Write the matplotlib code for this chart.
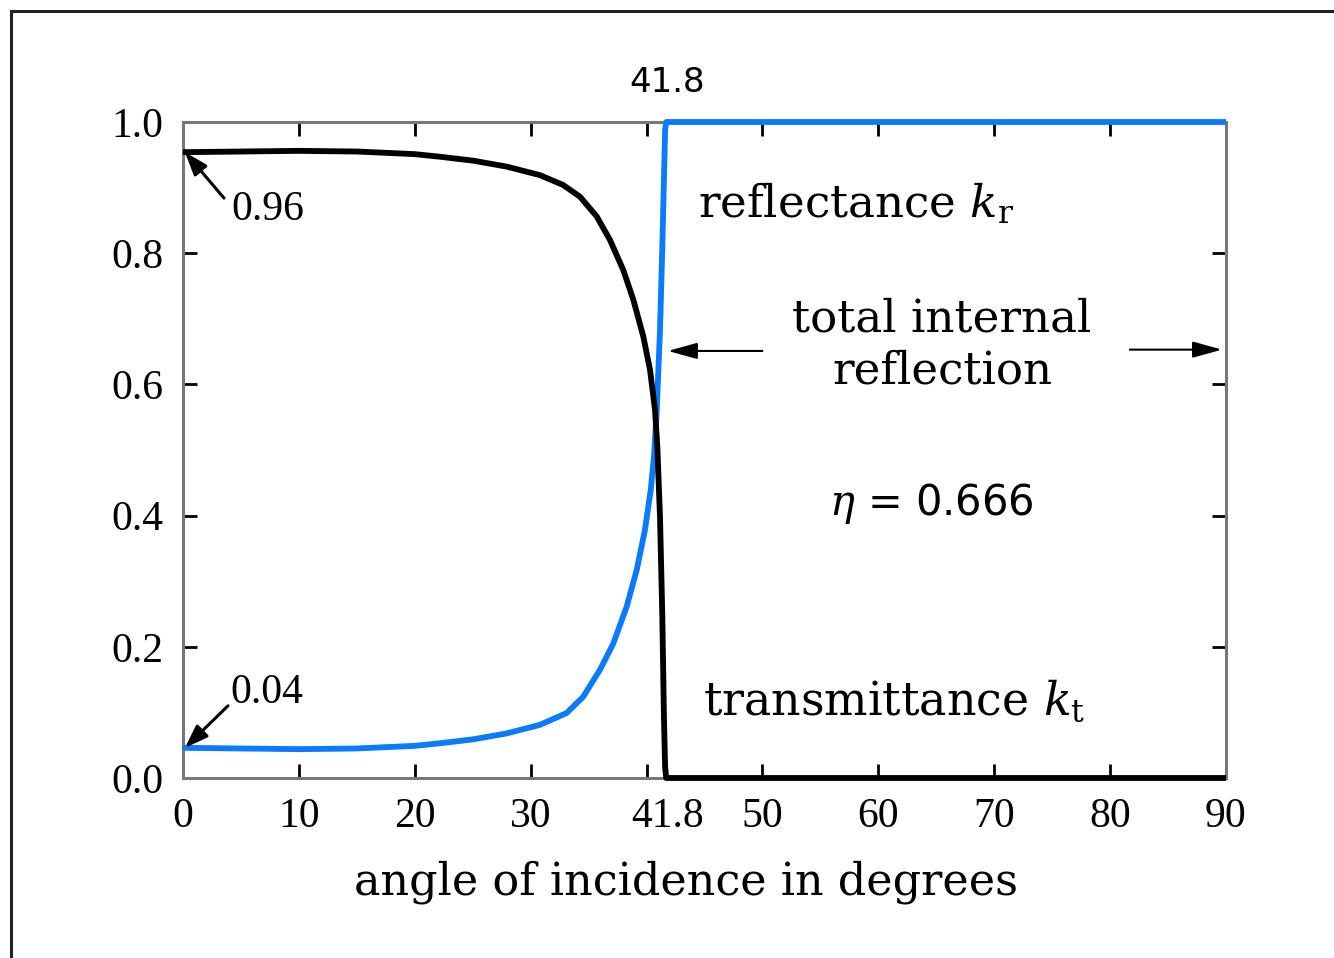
import matplotlib
matplotlib.use("Agg")
import matplotlib.pyplot as plt
from matplotlib.patches import Rectangle

# reflectance k_r (blue), angle in degrees
R_ANGLE = [0, 5, 10, 15, 20, 22.2, 25.05, 27.93, 30.8, 33.1, 34.54, 35.98,
           37.13, 38.28, 39.15, 39.86, 40.36, 40.64, 40.87, 41.16, 41.36,
           41.5, 41.6, 41.7, 90]
REFLECT = [0.046, 0.045, 0.044, 0.045, 0.049, 0.053, 0.059, 0.068, 0.081,
           0.099, 0.124, 0.165, 0.205, 0.261, 0.317, 0.378, 0.439, 0.49,
           0.556, 0.683, 0.81, 0.912, 0.988, 1.0, 1.0]

# transmittance k_t (black)
T_ANGLE = [0, 5, 10, 15, 20, 22.2, 25.05, 27.93, 30.8, 32.8, 34.26, 35.7,
           36.85, 38.0, 38.86, 39.72, 40.3, 40.73, 40.93, 41.16, 41.36, 41.5,
           41.6, 41.7, 90]
TRANSMIT = [0.954, 0.955, 0.956, 0.955, 0.951, 0.947, 0.941, 0.932, 0.919,
            0.904, 0.886, 0.856, 0.820, 0.774, 0.729, 0.673, 0.622, 0.561,
            0.505, 0.398, 0.246, 0.093, 0.017, 0.0, 0.0]

X_TICKS = [0, 10, 20, 30, 40, 50, 60, 70, 80, 90]
X_LABELS = ["0", "10", "20", "30", "", "50", "60", "70", "80", "90"]
Y_TICKS = [0.0, 0.2, 0.4, 0.6, 0.8, 1.0]
Y_LABELS = ["0.0", "0.2", "0.4", "0.6", "0.8", "1.0"]
CRITICAL = 41.8
ETA = 0.666

BLUE = "#0a7aff"
INK = "black"
SPINE = "#777777"

plt.rcParams["mathtext.fontset"] = "dejavuserif"

fig = plt.figure(figsize=(13.34, 9.58), dpi=100)
ax = fig.add_axes([183 / 1334, 1 - 778 / 958, 1043 / 1334, 656 / 958])

ax.plot(R_ANGLE, REFLECT, color=BLUE, lw=4.2, zorder=3, clip_on=False,
        solid_joinstyle="round", solid_capstyle="butt")
ax.plot(T_ANGLE, TRANSMIT, color=INK, lw=4.2, zorder=4, clip_on=False,
        solid_joinstyle="round", solid_capstyle="butt")

ax.set_xlim(0, 90)
ax.set_ylim(0, 1)
for s in ax.spines.values():
    s.set_color(SPINE)
    s.set_linewidth(2.2)

tick_font = dict(family="Liberation Serif", size=30)
ax.set_xticks(X_TICKS)
ax.set_xticklabels(X_LABELS, fontdict=tick_font)
ax.set_xticks([CRITICAL], minor=True)
ax.set_xticklabels(["41.8"], minor=True, fontdict=tick_font)
ax.set_yticks(Y_TICKS)
ax.set_yticklabels(Y_LABELS, fontdict=tick_font)
ax.tick_params(which="major", direction="in", length=10, width=2,
               color=INK, top=True, right=True, pad=14)
ax.tick_params(which="minor", length=0, pad=14)

ax.set_xlabel("angle of incidence in degrees", family="DejaVu Serif",
              fontsize=32, labelpad=16)
ax.xaxis.set_label_coords(0.482, -0.125)

# critical angle above the frame
ax.text(CRITICAL, 1.035, "41.8", family="DejaVu Sans", fontsize=24.5,
        ha="center", va="bottom")

serif = dict(family="DejaVu Serif", fontsize=32.5)
ax.text(44.4, 0.855, r"reflectance $k_\mathrm{r}$", ha="left",
        va="baseline", **serif)
ax.text(65.5, 0.70, "total internal", ha="center", va="center", **serif)
ax.text(65.5, 0.62, "reflection", ha="center", va="center", **serif)
ax.text(44.9, 0.096, r"transmittance $k_\mathrm{t}$", ha="left",
        va="baseline", family="DejaVu Serif", fontsize=33)
ax.text(64.6, 0.419, r"$\eta$ = " + f"{ETA}", family="DejaVu Sans",
        fontsize=30, ha="center", va="center")

tir = dict(arrowstyle="-|>,head_length=1.8,head_width=0.5",
           mutation_scale=10, color=INK, lw=1.5, shrinkA=0, shrinkB=0)
ax.annotate("", xy=(41.85, 0.651), xytext=(50.0, 0.651), arrowprops=tir)
ax.annotate("", xy=(89.65, 0.653), xytext=(81.7, 0.653), arrowprops=tir)

small = dict(arrowstyle="-|>,head_length=1.4,head_width=0.5",
             mutation_scale=10, color=INK, lw=2.2, shrinkA=0, shrinkB=0)
ax.annotate("", xy=(0.17, TRANSMIT[0]), xytext=(3.54, 0.884),
            arrowprops=small)
ax.annotate("", xy=(0.17, REFLECT[0]), xytext=(3.88, 0.110),
            arrowprops=small)
ax.text(4.14, 0.866, "0.96", family="Liberation Serif", fontsize=30,
        ha="left", va="center")
ax.text(4.05, 0.13, "0.04", family="Liberation Serif", fontsize=30,
        ha="left", va="center")

# figure frame (runs off the right and bottom edges)
fig.add_artist(Rectangle((11 / 1334, -0.1), 2.0, 1.1 - 11 / 958,
                         transform=fig.transFigure, fill=False,
                         edgecolor="#222222", lw=2.2, clip_on=False))

fig.savefig("out.png", dpi=100)
